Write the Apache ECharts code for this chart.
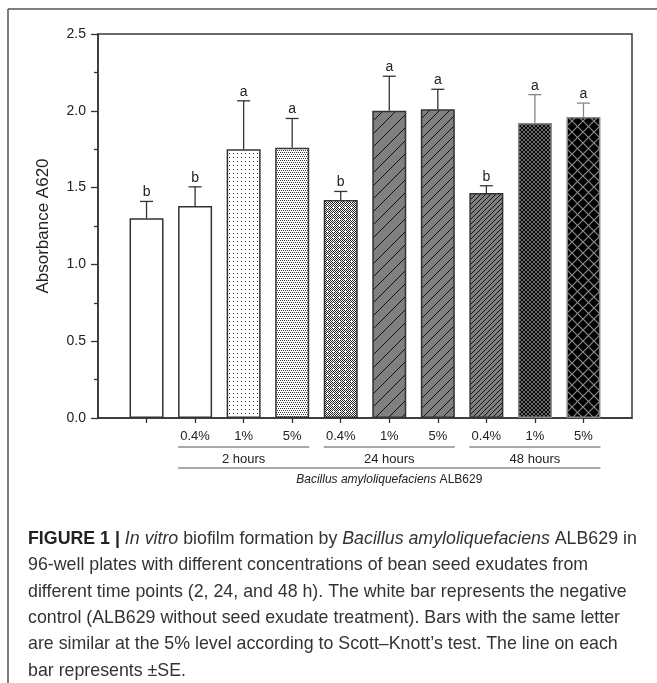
<!DOCTYPE html>
<html>
<head>
<meta charset="utf-8">
<script src="https://cdn.jsdelivr.net/npm/echarts@6/dist/echarts.min.js"></script>
<style>
html,body{margin:0;padding:0;background:#fff;}
#c{width:657px;height:683px;}
</style>
</head>
<body>
<div id="c"></div>
<script>
// ---- data ----
var positions = [1, 2, 3, 4, 5, 6, 7, 8, 9, 10];
var tickLabels = ['', '0.4%', '1%', '5%', '0.4%', '1%', '5%', '0.4%', '1%', '5%'];
var means = [1.30, 1.38, 1.75, 1.76, 1.42, 2.00, 2.01, 1.465, 1.92, 1.96];
var se = [0.11, 0.125, 0.315, 0.19, 0.055, 0.225, 0.13, 0.047, 0.185, 0.09];
var letters = ['b', 'b', 'a', 'a', 'b', 'a', 'a', 'b', 'a', 'a'];
var groupNames = ['2 hours', '24 hours', '48 hours'];
var groupStart = [2, 5, 8];
var groupEnd = [4, 7, 10];
var speciesLabel = 'Bacillus amyloliquefaciens';
var strainLabel = ' ALB629';

// ---- patterns (style only) ----
function tile(w, h, bg, draw) {
  var c = document.createElement('canvas');
  c.width = w; c.height = h;
  var g = c.getContext('2d');
  g.fillStyle = bg; g.fillRect(0, 0, w, h);
  if (draw) draw(g, w, h);
  return c;
}
function diagF(g, s, color, lw) { // '/'
  g.strokeStyle = color; g.lineWidth = lw; g.beginPath();
  g.moveTo(-1, s + 1); g.lineTo(s + 1, -1);
  g.moveTo(-1, 1); g.lineTo(1, -1);
  g.moveTo(s - 1, s + 1); g.lineTo(s + 1, s - 1);
  g.stroke();
}
function diagB(g, s, color, lw) { // '\'
  g.strokeStyle = color; g.lineWidth = lw; g.beginPath();
  g.moveTo(-1, -1); g.lineTo(s + 1, s + 1);
  g.moveTo(s - 1, -1); g.lineTo(s + 1, 1);
  g.moveTo(-1, s - 1); g.lineTo(1, s + 1);
  g.stroke();
}
var fills = [
  '#ffffff',
  '#ffffff',
  {image: tile(4, 4, '#fff', function (g) { g.fillStyle = '#333'; g.fillRect(1, 1, 1, 1); }), repeat: 'repeat'},
  {image: tile(4, 4, '#fff', function (g) { g.fillStyle = '#333'; g.fillRect(0, 0, 1, 1); g.fillRect(2, 0, 1, 1); g.fillRect(1, 2, 1, 1); g.fillRect(3, 2, 1, 1); }), repeat: 'repeat'},
  {image: tile(6, 6, '#fff', function (g) {
    g.fillStyle = '#222';
    for (var x = 0; x < 6; x++) for (var y = 0; y < 6; y++) if ((x + y) % 2 === 0) g.fillRect(x, y, 1, 1);
    g.fillStyle = '#fff'; g.fillRect(2, 3, 3, 1); g.fillRect(3, 2, 1, 3);
  }), repeat: 'repeat'},
  {image: tile(13, 13, '#808080', function (g, s) { diagF(g, s, '#111', 1); }), repeat: 'repeat'},
  {image: tile(10, 10, '#808080', function (g, s) { diagF(g, s, '#111', 1); }), repeat: 'repeat'},
  {image: tile(5, 5, '#808080', function (g, s) { diagF(g, s, '#111', 1); }), repeat: 'repeat'},
  {image: tile(4, 4, '#0a0a0a', function (g, s) { diagF(g, s, '#707070', 0.9); diagB(g, s, '#707070', 0.9); }), repeat: 'repeat'},
  {image: tile(11, 11, '#000', function (g, s) { diagF(g, s, '#8a8a8a', 1.2); diagB(g, s, '#8a8a8a', 1.2); }), repeat: 'repeat'}
];
var edgeColors = ['#333', '#333', '#333', '#333', '#333', '#333', '#333', '#333', '#888', '#888'];

var FONT = 'Liberation Sans, Arial, sans-serif';
var BARW = 34;

var chart = echarts.init(document.getElementById('c'), null, {renderer: 'canvas'});

var barData = positions.map(function (p, i) {
  return {value: [p, means[i]], itemStyle: {color: fills[i], borderColor: edgeColors[i], borderWidth: 1.5}};
});
var errData = positions.map(function (p, i) { return [p, means[i], se[i]]; });

chart.setOption({
  animation: false,
  grid: {left: 98, right: 25, top: 34, bottom: 265, show: true, borderColor: '#3a3a3a', borderWidth: 1.5, backgroundColor: 'transparent'},
  xAxis: {
    type: 'value', min: 0, max: 11, interval: 1,
    axisLine: {show: true, onZero: false, lineStyle: {color: '#333', width: 1.5}},
    axisTick: {show: true, inside: false, length: 5, lineStyle: {color: '#333', width: 1.3}, customValues: positions},
    axisLabel: {show: true, margin: 12, fontFamily: FONT, fontSize: 13, color: '#222',
      customValues: positions.slice(1),
      formatter: function (v) { return tickLabels[Math.round(v) - 1]; }},
    splitLine: {show: false}
  },
  yAxis: {
    type: 'value', min: 0, max: 2.5, interval: 0.5,
    name: 'Absorbance A620', nameLocation: 'middle', nameGap: 46,
    nameTextStyle: {fontFamily: FONT, fontSize: 17, color: '#222'},
    axisLine: {show: true, lineStyle: {color: '#333', width: 1.5}},
    axisTick: {show: true, inside: false, length: 7, lineStyle: {color: '#333', width: 1.3}},
    minorTick: {show: true, splitNumber: 2, length: 4, lineStyle: {color: '#333', width: 1.3}},
    axisLabel: {margin: 12, fontFamily: FONT, fontSize: 14, color: '#222',
      formatter: function (v) { return v.toFixed(1); }},
    splitLine: {show: false}
  },
  series: [
    {type: 'bar', data: barData, barWidth: BARW, z: 2},
    {type: 'custom', z: 3, data: errData,
      renderItem: function (params, api) {
        var i = params.dataIndex;
        var x = api.value(0), m = api.value(1), e = api.value(2);
        var p0 = api.coord([x, m]);
        var p1 = api.coord([x, m + e]);
        var col = edgeColors[i] === '#888' ? '#888' : '#333';
        return {type: 'group', children: [
          {type: 'line', shape: {x1: p0[0], y1: p0[1], x2: p1[0], y2: p1[1]}, style: {stroke: col, lineWidth: 1.3}},
          {type: 'line', shape: {x1: p1[0] - 6.5, y1: p1[1], x2: p1[0] + 6.5, y2: p1[1]}, style: {stroke: col, lineWidth: 1.3}},
          {type: 'text', x: p1[0], y: p1[1] - 2, style: {text: letters[i], fontFamily: FONT, fontSize: 14, fill: '#222', align: 'center', verticalAlign: 'bottom'}}
        ]};
      }}
  ]
});

// ---- annotations below the axis and caption ----
var g = [];
var y0 = chart.convertToPixel({xAxisIndex: 0, yAxisIndex: 0}, [0, 0])[1];
function px(v) { return chart.convertToPixel({xAxisIndex: 0, yAxisIndex: 0}, [v, 0])[0]; }
for (var k = 0; k < groupNames.length; k++) {
  var a = px(groupStart[k]) - BARW / 2, b = px(groupEnd[k]) + BARW / 2;
  g.push({type: 'line', shape: {x1: a, y1: y0 + 29, x2: b, y2: y0 + 29}, style: {stroke: '#555', lineWidth: 1}});
  g.push({type: 'text', x: (a + b) / 2, y: y0 + 41, style: {text: groupNames[k], fontFamily: FONT, fontSize: 13, fill: '#222', align: 'center', verticalAlign: 'middle'}});
}
var la = px(groupStart[0]) - BARW / 2, lb = px(groupEnd[groupEnd.length - 1]) + BARW / 2;
g.push({type: 'line', shape: {x1: la, y1: y0 + 50, x2: lb, y2: y0 + 50}, style: {stroke: '#555', lineWidth: 1}});
g.push({type: 'text', x: (la + lb) / 2, y: y0 + 62, style: {
  text: '{i|' + speciesLabel + '}{n|' + strainLabel + '}', align: 'center', verticalAlign: 'middle',
  rich: {i: {fontFamily: FONT, fontSize: 12, fontStyle: 'italic', fill: '#222'}, n: {fontFamily: FONT, fontSize: 12, fill: '#222'}}
}});

// frame
g.push({type: 'line', shape: {x1: 8, y1: 9, x2: 657, y2: 9}, style: {stroke: '#555', lineWidth: 1.5}});
g.push({type: 'line', shape: {x1: 8, y1: 9, x2: 8, y2: 683}, style: {stroke: '#555', lineWidth: 1.5}});

// caption
var CAPF = 'Liberation Sans, Arial, sans-serif';
var capLines = [
  '{b|FIGURE 1 | }{i|In vitro}{n| biofilm formation by }{i|Bacillus amyloliquefaciens}{n| ALB629 in}',
  '{n|96-well plates with different concentrations of bean seed exudates from}',
  '{n|different time points (2, 24, and 48 h). The white bar represents the negative}',
  '{n|control (ALB629 without seed exudate treatment). Bars with the same letter}',
  '{n|are similar at the 5% level according to Scott\u2013Knott\u2019s test. The line on each}',
  '{n|bar represents \u00b1SE.}'
];
var mc = document.createElement('canvas').getContext('2d');
mc.font = '15px ' + CAPF;
var w3 = mc.measureText('different time points (2, 24, and 48 h). The white bar represents the negative').width;
var cfs = Math.round(15 * 598 / w3 * 10) / 10;
for (var j = 0; j < capLines.length; j++) {
  g.push({type: 'text', x: 28, y: 539 + j * 26.4, style: {
    text: capLines[j], align: 'left', verticalAlign: 'middle',
    rich: {
      b: {fontFamily: CAPF, fontSize: cfs, fontWeight: 'bold', fill: '#222'},
      i: {fontFamily: CAPF, fontSize: cfs, fontStyle: 'italic', fill: '#333'},
      n: {fontFamily: CAPF, fontSize: cfs, fill: '#333'}
    }
  }});
}
chart.setOption({graphic: {elements: g}});
</script>
</body>
</html>
